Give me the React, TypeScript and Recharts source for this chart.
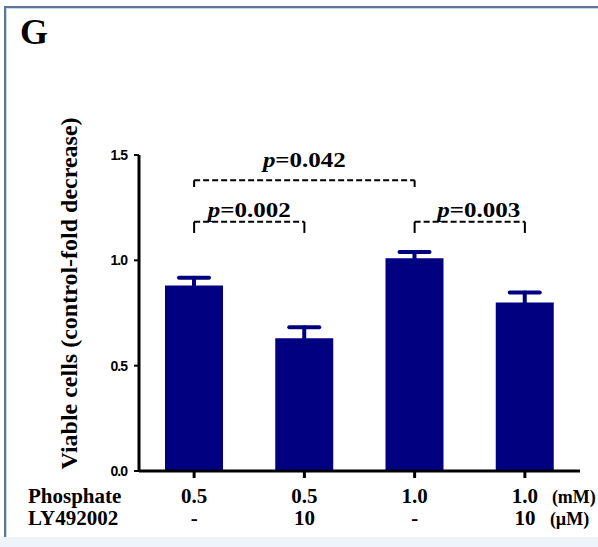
import { Bar, BarChart, ErrorBar, ReferenceLine, XAxis, YAxis } from "recharts";

// four treatment groups
const groups = ["A", "B", "C", "D"];
const phosphate = ["0.5", "0.5", "1.0", "1.0"];
const ly492002 = ["-", "10", "-", "10"];
const viable = [0.88, 0.63, 1.01, 0.8];
const sem = [0.037, 0.052, 0.029, 0.047];
const yTicks = [0, 0.5, 1.0, 1.5];
const rowNames = ["Phosphate", "LY492002"];
const units = ["(mM)", "(µM)"];

const bracketFrom = ["A", "A", "C"];
const bracketTo = ["C", "B", "D"];
const bracketY = [1.38, 1.183, 1.183];
const bracketDrop = [0.032, 0.053, 0.053];
const pValues = ["0.042", "0.002", "0.003"];

const data = groups.map((g, i) => ({ group: g, value: viable[i], err: sem[i] }));

const serif = "Liberation Serif, Times New Roman, serif";
const navy = "#000080";

function GroupTick(props: any) {
  const { x, y, index } = props;
  const last = index === groups.length - 1;
  return (
    <g fontFamily={serif} fontWeight="bold" fontSize={21} fill="#000">
      <text x={x} y={y + 25} textAnchor="middle">{phosphate[index]}</text>
      <text x={x} y={y + 47} textAnchor="middle">{ly492002[index]}</text>
      {last && (
        <>
          <text x={x + 27} y={y + 25} fontSize={18}>{units[0]}</text>
          <text x={x + 25} y={y + 47} fontSize={18}>{units[1]}</text>
        </>
      )}
    </g>
  );
}

function bracketLabel(p: string, lift: number, dx: number) {
  return (props: any) => {
    const vb = props.viewBox || {};
    const cx = (vb.x ?? 0) + (vb.width ?? 0) / 2 + dx;
    return (
      <text
        x={cx}
        y={(vb.y ?? 0) - lift}
        textAnchor="middle"
        fontFamily={serif}
        fontWeight="bold"
        fontSize={21}
        textLength={83}
        lengthAdjust="spacingAndGlyphs"
        fill="#000"
      >
        <tspan fontStyle="italic">p</tspan>={p}
      </text>
    );
  };
}

const dash = { stroke: "#000", strokeWidth: 2, strokeDasharray: "6 3" };

export default function App() {
  return (
    <div style={{ position: "absolute", left: 0, top: 0, width: 598, height: 547, background: "#fff", overflow: "hidden" }}>
      <div
        style={{
          position: "absolute",
          left: 4,
          top: 6,
          width: 600,
          height: 531,
          borderTop: "2px solid #5d7698",
          borderLeft: "2px solid #5d7698",
          boxShadow: "inset 1px 1px 0 #c9d9ec",
        }}
      />
      <div style={{ position: "absolute", left: 0, top: 537, width: 598, height: 10, background: "#eef4fa" }} />
      <div style={{ position: "absolute", left: 0, top: 0 }}>
        <BarChart width={598} height={547} data={data} margin={{ top: 155, right: 18, bottom: 0, left: 0 }}>
          <XAxis
            dataKey="group"
            height={76}
            tickSize={7}
            tickMargin={0}
            axisLine={{ stroke: "#000", strokeWidth: 3 }}
            tickLine={{ stroke: "#000", strokeWidth: 3 }}
            tick={<GroupTick />}
            interval={0}
          />
          <YAxis
            width={139}
            domain={[0, 1.5]}
            ticks={yTicks}
            tickFormatter={(v: number) => v.toFixed(1)}
            tickSize={5}
            tickMargin={7}
            axisLine={{ stroke: "#000", strokeWidth: 3 }}
            tickLine={{ stroke: "#000", strokeWidth: 2 }}
            tick={{ fill: "#000", fontFamily: "Liberation Sans, Arial, sans-serif", fontWeight: "bold", fontSize: 14, letterSpacing: -1 }}
          />
          <Bar dataKey="value" fill={navy} barSize={58} isAnimationActive={false}>
            <ErrorBar dataKey="err" direction="y" width={15} stroke={navy} strokeWidth={4} strokeLinecap="round" />
          </Bar>
          {pValues.map((p, i) => (
            <ReferenceLine
              key={"h" + i}
              segment={[
                { x: bracketFrom[i], y: bracketY[i] },
                { x: bracketTo[i], y: bracketY[i] },
              ]}
              {...dash}
              label={bracketLabel(p, i === 0 ? 13 : 5, i === 2 ? 9 : 0)}
            />
          ))}
          {pValues.map((p, i) => (
            <ReferenceLine
              key={"l" + i}
              segment={[
                { x: bracketFrom[i], y: bracketY[i] },
                { x: bracketFrom[i], y: bracketY[i] - bracketDrop[i] },
              ]}
              stroke="#000"
              strokeWidth={2}
            />
          ))}
          {pValues.map((p, i) => (
            <ReferenceLine
              key={"r" + i}
              segment={[
                { x: bracketTo[i], y: bracketY[i] },
                { x: bracketTo[i], y: bracketY[i] - bracketDrop[i] },
              ]}
              stroke="#000"
              strokeWidth={2}
            />
          ))}
        </BarChart>
      </div>
      <svg width={598} height={547} style={{ position: "absolute", left: 0, top: 0, pointerEvents: "none" }}>
        <text x={20} y={44} fontFamily={serif} fontWeight="bold" fontSize={36} fill="#000">
          G
        </text>
        <text
          transform="translate(76.5, 293.5) rotate(-90)"
          textAnchor="middle"
          fontFamily={serif}
          fontWeight="bold"
          fontSize={24}
          fill="#000"
        >
          Viable cells (control-fold decrease)
        </text>
        {rowNames.map((name, i) => (
          <text key={name} x={28} y={503 + i * 22} fontFamily={serif} fontWeight="bold" fontSize={21} fill="#000">
            {name}
          </text>
        ))}
      </svg>
    </div>
  );
}
